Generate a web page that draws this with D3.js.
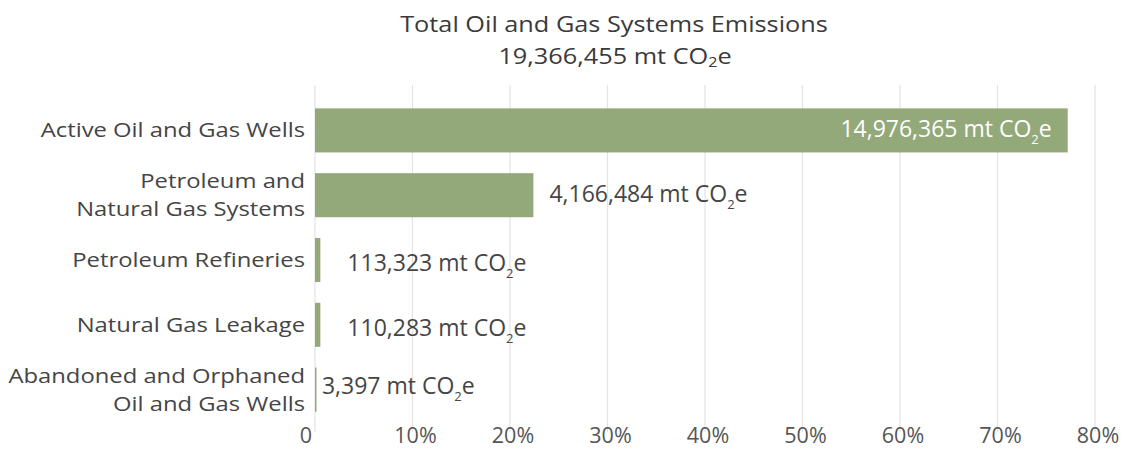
<!DOCTYPE html>
<html><head><meta charset="utf-8">
<script src="https://cdn.jsdelivr.net/npm/d3@7"></script>
<style>body{margin:0;background:#fff;} svg{display:block;}</style>
</head><body>
<svg id="c" width="1128" height="450"></svg>
<script>
const categories = ["Active Oil and Gas Wells", "Petroleum and\nNatural Gas Systems", "Petroleum Refineries", "Natural Gas Leakage", "Abandoned and Orphaned\nOil and Gas Wells"];
const sharePct = [77.2, 22.4, 0.55, 0.55, 0.1];
const valueLabels = ["14,976,365", "4,166,484", "113,323", "110,283", "3,397"];
const tickValues = [0, 10, 20, 30, 40, 50, 60, 70, 80];
const tickLabels = ["0", "10%", "20%", "30%", "40%", "50%", "60%", "70%", "80%"];
const titleLine1 = "Total Oil and Gas Systems Emissions";
const totalLabel = "19,366,455";

const FONT = "'Open Sans', sans-serif";
const svg = d3.select("#c");
const x = d3.scaleLinear().domain([0, 80]).range([315, 1095]);
const y = d3.scaleBand().domain(categories).range([98, 422]).paddingInner(0.32).paddingOuter(0.16);

// helper: horizontally stretched text group
function stretched(px, py, sx) {
  return svg.append("g").attr("transform", `translate(${px},${py}) scale(${sx},1)`);
}

// gridlines
svg.append("g").selectAll("line").data(tickValues).join("line")
  .attr("x1", d => x(d)).attr("x2", d => x(d)).attr("y1", 85).attr("y2", 432)
  .attr("stroke", "#e3e3e3").attr("stroke-width", 1.2);

// tick labels
svg.append("g").selectAll("text").data(tickValues).join("text")
  .attr("x", (d,i) => x(d) + (i===0 ? -9 : 3)).attr("y", 443)
  .attr("text-anchor", "middle").attr("font-family", FONT).attr("font-size", 21.5)
  .attr("fill", "#555").text((d,i) => tickLabels[i]);

// bars
svg.append("g").selectAll("rect").data(categories).join("rect")
  .attr("x", x(0)).attr("y", d => y(d))
  .attr("width", (d,i) => Math.max(1.5, x(sharePct[i]) - x(0)))
  .attr("height", y.bandwidth())
  .attr("fill", "#94a979");

// category labels
categories.forEach((c, i) => {
  const lines = c.split("\n");
  const cy = y(c) + y.bandwidth()/2;
  const lh = 28;
  lines.forEach((ln, j) => {
    stretched(305, cy + (j - (lines.length-1)/2) * lh + 7, 1.19)
      .append("text").attr("text-anchor", "end").attr("font-family", FONT)
      .attr("font-size", 20).attr("fill", "#454545").text(ln);
  });
});

// value labels
const dxs = [null, 16, 27, 27, 6];
const dys = [7, 7, 11, 11, 4];
categories.forEach((c, i) => {
  const cy = y(c) + y.bandwidth()/2 + dys[i];
  const inside = i === 0;
  const t = svg.append("text").attr("font-family", FONT).attr("font-size", 23)
    .attr("fill", inside ? "#fff" : "#454545")
    .attr("text-anchor", inside ? "end" : "start")
    .attr("x", inside ? x(sharePct[i]) - 16 : x(sharePct[i]) + dxs[i])
    .attr("y", cy);
  t.append("tspan").text(valueLabels[i] + " mt CO");
  t.append("tspan").attr("font-size", 13).attr("dy", 7).text("2");
  t.append("tspan").attr("dy", -7).text("e");
});

// title
stretched(614, 32, 1.15).append("text").attr("text-anchor", "middle").attr("font-family", FONT)
  .attr("font-size", 22).attr("fill", "#3a3a3a").text(titleLine1);
const t2 = stretched(615, 64, 1.15).append("text").attr("text-anchor", "middle").attr("font-family", FONT)
  .attr("font-size", 22).attr("fill", "#3a3a3a");
t2.append("tspan").text(totalLabel + " mt CO");
t2.append("tspan").attr("font-size", 14).attr("dy", 3).text("2");
t2.append("tspan").attr("dy", -3).text("e");
</script>
</body></html>
